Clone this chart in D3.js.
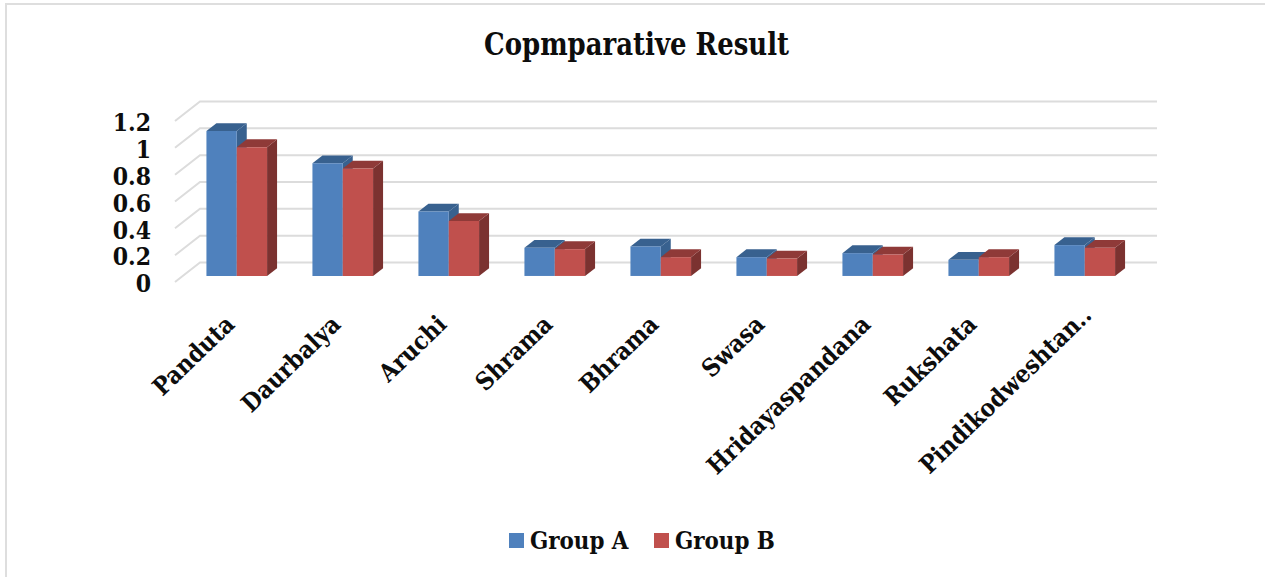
<!DOCTYPE html>
<html>

<head>
    <title>Copmparative Result</title>
    <script src="https://cdn.jsdelivr.net/npm/d3@7"></script>
    <style>
        html, body { margin: 0; padding: 0; background: #fff; }
        svg { display: block; }
        text { font-family: "DejaVu Serif Condensed", "DejaVu Serif", serif; font-weight: bold; fill: #0d0d0d; }
    </style>
</head>

<body>
    <svg id="chart"></svg>
    <script>
    var categories = ['Panduta', 'Daurbalya', 'Aruchi', 'Shrama', 'Bhrama', 'Swasa', 'Hridayaspandana', 'Rukshata', 'Pindikodweshtan..'];
    var groupA = [1.08, 0.84, 0.48, 0.21, 0.22, 0.14, 0.17, 0.12, 0.23];
    var groupB = [0.96, 0.80, 0.41, 0.20, 0.14, 0.13, 0.16, 0.14, 0.21];
    var seriesNames = ['Group A', 'Group B'];
    var yTicks = [0, 0.2, 0.4, 0.6, 0.8, 1, 1.2];

    var width = 1265, height = 577;

    var colors = [
      { front: '#4f81bd', top: '#38618f', side: '#38618f' },
      { front: '#c0504d', top: '#8f3a38', side: '#7b3230' }
    ];

    var svg = d3.select('#chart')
      .attr('width', width)
      .attr('height', height);

    // chart frame, only the top and left edges show
    svg.append('path')
      .attr('d', d3.line()([[6, 577], [6, 4], [1265, 4]]))
      .attr('fill', 'none')
      .attr('stroke', '#dedede')
      .attr('stroke-width', 2);

    var plotLeft = 175, plotRight = 1132;

    // front edge of the floor and the value axis
    var x = d3.scaleBand()
      .domain(categories)
      .range([plotLeft + 1, 1130])
      .paddingInner(.428)
      .paddingOuter(.214);

    var y = d3.scaleLinear()
      .domain([0, 1.2])
      .range([282, 121]);

    // depth 0 is the front of the floor, depth 1 the back wall
    var depthX = 25, depthY = -19.5;
    function project(px, value, depth) {
      return [px + depth * depthX, y(value) + depth * depthY];
    }

    var grid = svg.append('g')
      .attr('fill', 'none')
      .attr('stroke', '#dcdcdc')
      .attr('stroke-width', 2);

    grid.selectAll('path')
      .data(yTicks)
      .enter()
      .append('path')
      .attr('d', d => d3.line()([
        project(plotLeft, d, 0),
        project(plotLeft, d, 1),
        project(plotRight, d, 1)
      ]));

    var yAxis = d3.axisLeft()
      .scale(y)
      .tickValues(yTicks)
      .tickSize(0)
      .tickPadding(24)
      .tickFormat(d => String(d));

    var yAxisG = svg.append('g')
      .attr('transform', 'translate(' + plotLeft + ',0)')
      .call(yAxis);
    yAxisG.select('.domain').remove();
    yAxisG.selectAll('text')
      .attr('font-size', 24.5)
      .style('font-family', null)
      .attr('dy', '.4em');

    // bars: front face, then top, then right side
    var barFront = .31, barBack = .71;
    var barWidth = x.bandwidth() / 2;

    function poly(points) {
      return d3.line()(points) + 'Z';
    }

    var bars = [];
    categories.forEach(function (c, i) {
      bars.push({ cat: c, s: 0, v: groupA[i] });
      bars.push({ cat: c, s: 1, v: groupB[i] });
    });

    var bar = svg.append('g')
      .selectAll('g')
      .data(bars)
      .enter()
      .append('g');

    bar.append('path')
      .attr('d', function (d) {
        var x0 = x(d.cat) + d.s * barWidth, x1 = x0 + barWidth;
        return poly([project(x1, d.v, barFront), project(x1, d.v, barBack), project(x1, 0, barBack), project(x1, 0, barFront)]);
      })
      .attr('fill', d => colors[d.s].side);

    bar.append('path')
      .attr('d', function (d) {
        var x0 = x(d.cat) + d.s * barWidth, x1 = x0 + barWidth;
        return poly([project(x0, d.v, barFront), project(x0, d.v, barBack), project(x1, d.v, barBack), project(x1, d.v, barFront)]);
      })
      .attr('fill', d => colors[d.s].top);

    bar.append('path')
      .attr('d', function (d) {
        var x0 = x(d.cat) + d.s * barWidth, x1 = x0 + barWidth;
        return poly([project(x0, d.v, barFront), project(x1, d.v, barFront), project(x1, 0, barFront), project(x0, 0, barFront)]);
      })
      .attr('fill', d => colors[d.s].front);

    // category labels, rotated and ending under each group; the cut-off label runs a bit further
    svg.append('g')
      .selectAll('text')
      .data(categories)
      .enter()
      .append('text')
      .attr('font-size', 24.5)
      .attr('text-anchor', 'end')
      .attr('transform', function (d) {
        var extra = d.endsWith('..') ? 9 : 0;
        return 'translate(' + (x(d) + x.bandwidth() / 2 + 7 + extra) + ',' + (326 - extra) + ') rotate(-44)';
      })
      .text(d => d);

    svg.append('text')
      .attr('x', 636.5)
      .attr('y', 55)
      .attr('font-size', 32)
      .attr('text-anchor', 'middle')
      .attr('textLength', 305)
      .attr('lengthAdjust', 'spacingAndGlyphs')
      .text('Copmparative Result');

    // legend
    var legendX = d3.scaleOrdinal()
      .domain(seriesNames)
      .range([509, 654]);

    var legend = svg.append('g')
      .selectAll('g')
      .data(seriesNames)
      .enter()
      .append('g')
      .attr('transform', d => 'translate(' + legendX(d) + ',533)');

    legend.append('rect')
      .attr('width', 15)
      .attr('height', 15)
      .attr('fill', (d, i) => colors[i].front);

    legend.append('text')
      .attr('x', 21)
      .attr('y', 16)
      .attr('font-size', 23.8)
      .text(d => d);
    </script>
</body>

</html>
